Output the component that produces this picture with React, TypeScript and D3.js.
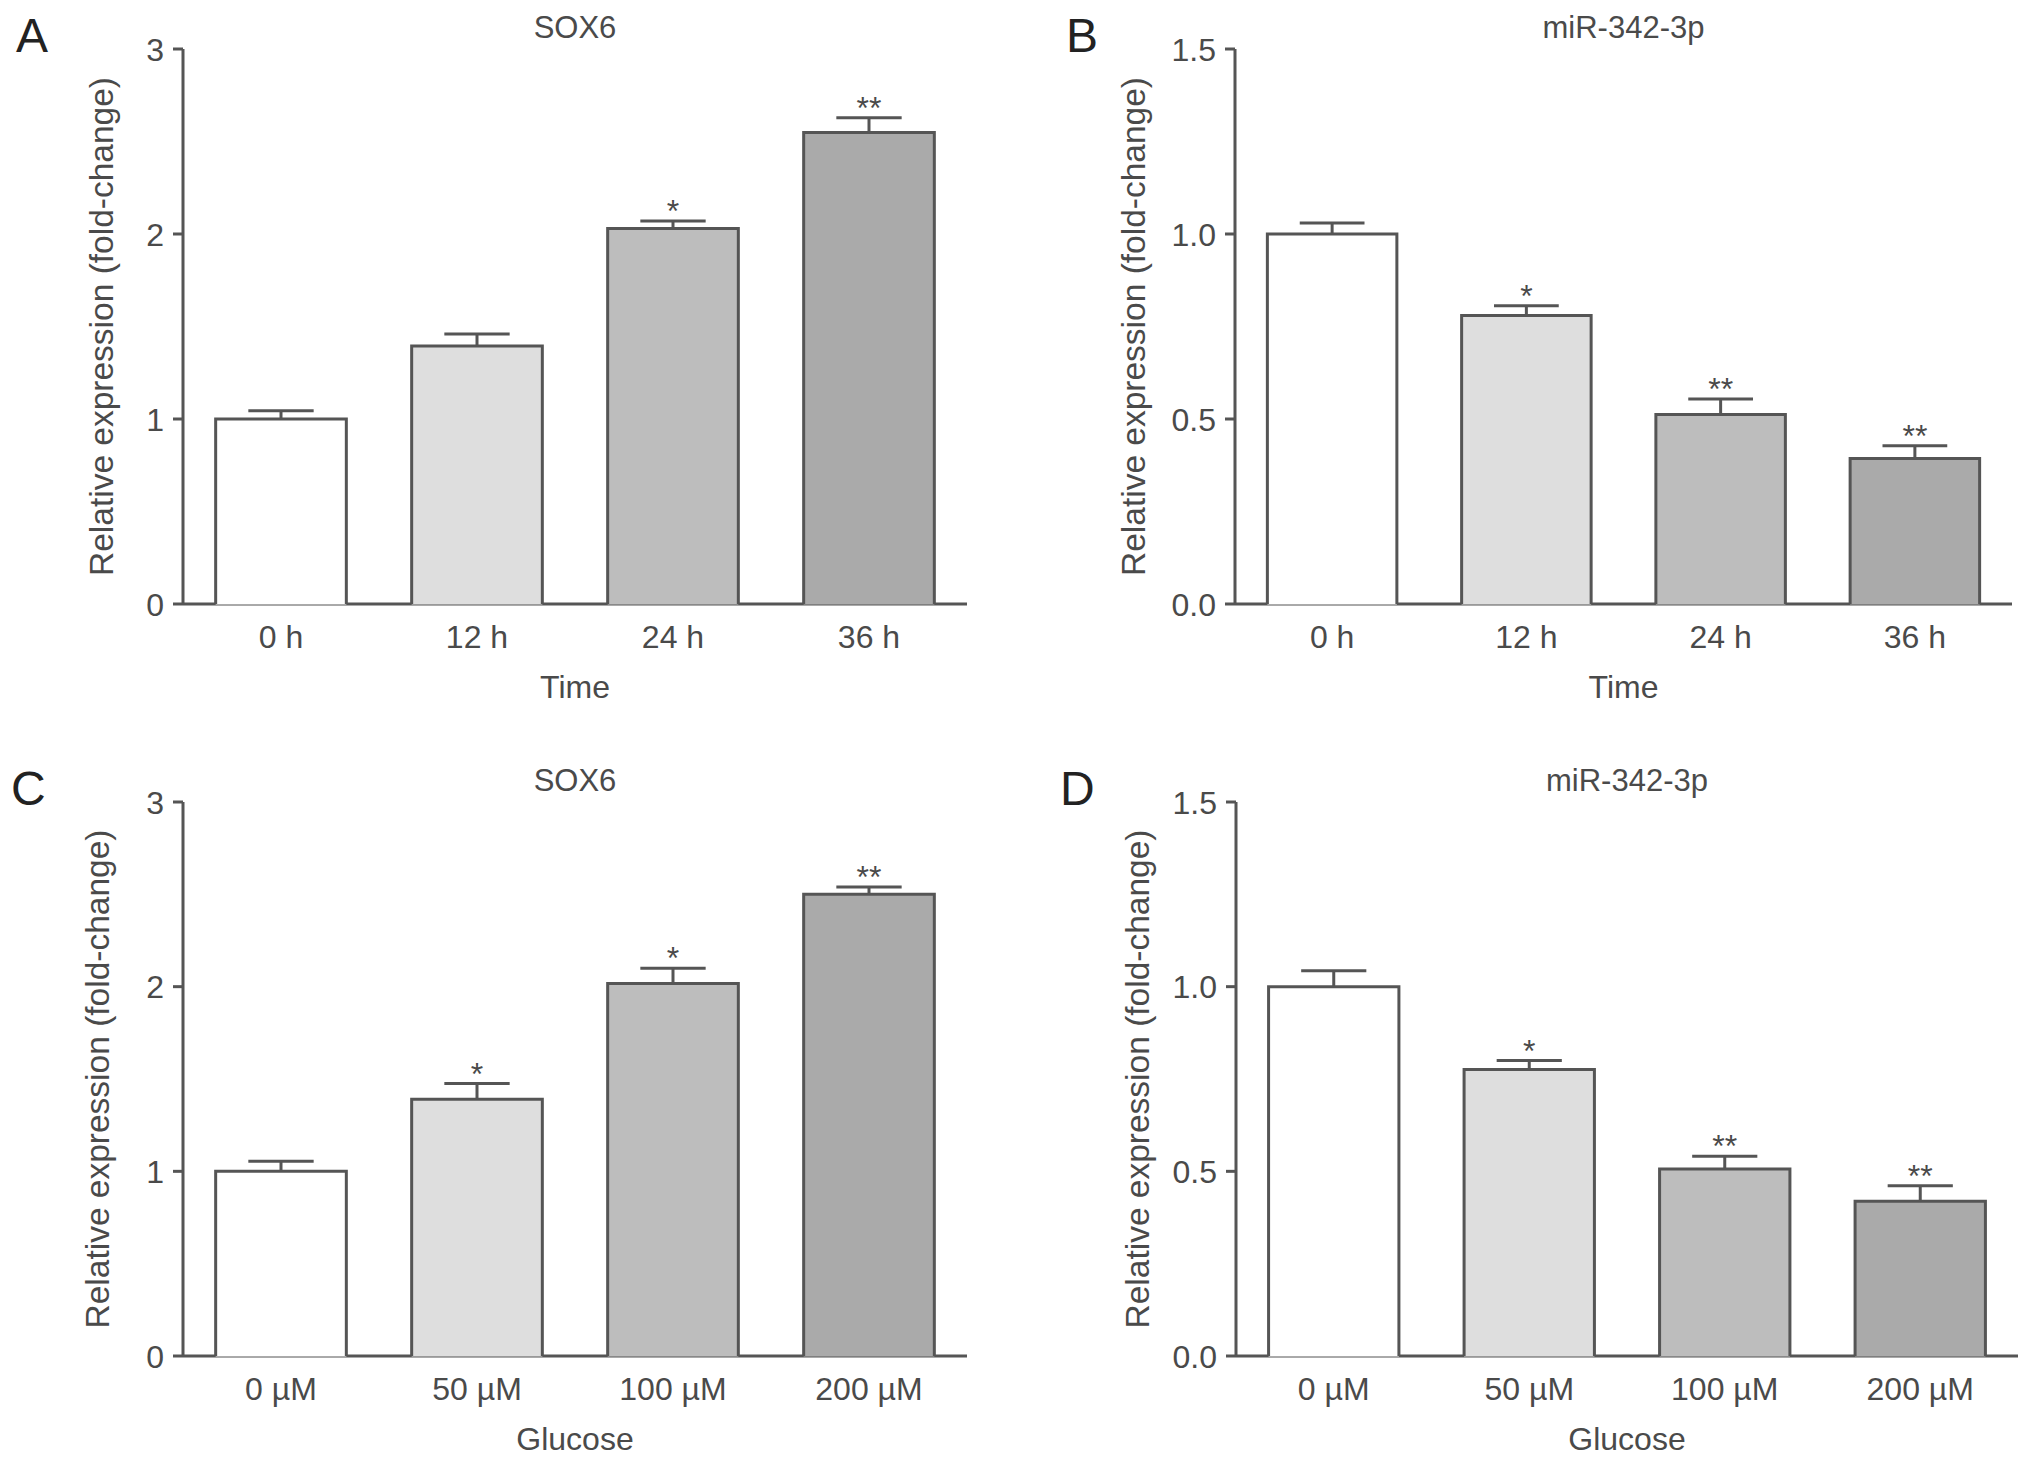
import * as d3 from 'd3'

// categories
const timeLabels = ['0 h', '12 h', '24 h', '36 h']
const glucoseLabels = ['0 µM', '50 µM', '100 µM', '200 µM']

// series (mean, error)
const sox6Time = [1.0, 1.395, 2.03, 2.548]
const sox6TimeErr = [0.045, 0.065, 0.04, 0.08]
const mirTime = [1.0, 0.78, 0.512, 0.393]
const mirTimeErr = [0.03, 0.026, 0.042, 0.035]
const sox6Glucose = [1.0, 1.39, 2.017, 2.5]
const sox6GlucoseErr = [0.055, 0.085, 0.083, 0.04]
const mirGlucose = [1.0, 0.776, 0.506, 0.419]
const mirGlucoseErr = [0.043, 0.024, 0.035, 0.042]

// significance marks
const sox6TimeSig = ['', '', '*', '**']
const mirTimeSig = ['', '*', '**', '**']
const sox6GlucoseSig = ['', '*', '*', '**']
const mirGlucoseSig = ['', '*', '**', '**']

// y ticks
const soxTicks = [0, 1, 2, 3]
const mirTicks = [0, 0.5, 1.0, 1.5]

const fills = ['#ffffff', '#dedede', '#bdbdbd', '#aaaaaa']
const INK = '#555'
const TEXT = '#4a4a4a'
const FONT = '"Liberation Sans", Arial, sans-serif'

interface PanelProps {
  letter: string
  title: string
  xTitle: string
  cats: string[]
  values: number[]
  errs: number[]
  sig: string[]
  ticks: number[]
  tickFmt: string
  x0: number
  x1: number
  top: number
  bottom: number
  yTitleX: number
  letterX: number
}

function Panel({
  letter, title, xTitle, cats, values, errs, sig, ticks, tickFmt,
  x0, x1, top, bottom, yTitleX, letterX,
}: PanelProps) {
  const x = d3.scaleBand<string>().domain(cats).range([x0, x1])
    .paddingInner(1 / 3).paddingOuter(1 / 6)
  const y = d3.scaleLinear().domain([ticks[0], ticks[ticks.length - 1]]).range([bottom, top])
  const fmt = d3.format(tickFmt)
  const bw = x.bandwidth()
  const cx = (x0 + x1) / 2

  return (
    <g fontFamily={FONT} fill={TEXT}>
      <text x={letterX} y={top + 3} fontSize={48} fill="#222">{letter}</text>
      <text x={cx} y={top - 11} fontSize={31} textAnchor="middle">{title}</text>

      {/* y axis */}
      <line x1={x0} x2={x0} y1={top} y2={bottom} stroke={INK} strokeWidth={3} />
      {ticks.map(t => (
        <g key={t}>
          <line x1={x0 - 10} x2={x0} y1={y(t)} y2={y(t)} stroke={INK} strokeWidth={3} />
          <text x={x0 - 19} y={y(t)} dy="0.36em" fontSize={32} textAnchor="end">{fmt(t)}</text>
        </g>
      ))}
      <text transform={`translate(${yTitleX},${(top + bottom) / 2}) rotate(-90)`}
        fontSize={33.5} textAnchor="middle">Relative expression (fold-change)</text>

      {/* x axis */}
      <line x1={x0} x2={x1} y1={bottom} y2={bottom} stroke={INK} strokeWidth={3} />

      {cats.map((c, i) => {
        const bx = x(c) as number
        const yt = y(values[i])
        const ye = y(values[i] + errs[i])
        const mx = bx + bw / 2
        return (
          <g key={c}>
            <line x1={mx} x2={mx} y1={yt} y2={ye} stroke={INK} strokeWidth={3} />
            <line x1={mx - bw / 4} x2={mx + bw / 4} y1={ye} y2={ye} stroke={INK} strokeWidth={3} />
            <rect x={bx} y={yt} width={bw} height={bottom - yt + 0.5} fill={fills[i]} />
            <path d={`M${bx},${bottom}V${yt}H${bx + bw}V${bottom}`} fill="none"
              stroke={INK} strokeWidth={3} />
            {sig[i] && (
              <text x={mx} y={ye + 1} fontSize={32} textAnchor="middle">{sig[i]}</text>
            )}
            <text x={mx} y={bottom + 44} fontSize={32} textAnchor="middle">{c}</text>
          </g>
        )
      })}
      <text x={cx} y={bottom + 94} fontSize={32} textAnchor="middle">{xTitle}</text>
    </g>
  )
}

export default function App() {
  return (
    <svg width={2032} height={1464} style={{ position: 'absolute', left: 0, top: 0, background: '#fff' }}>
      <rect width={2032} height={1464} fill="#fff" />
      <Panel letter="A" title="SOX6" xTitle="Time" cats={timeLabels}
        values={sox6Time} errs={sox6TimeErr} sig={sox6TimeSig}
        ticks={soxTicks} tickFmt="d" x0={183} x1={967} top={49} bottom={604}
        yTitleX={113} letterX={16} />
      <Panel letter="B" title="miR-342-3p" xTitle="Time" cats={timeLabels}
        values={mirTime} errs={mirTimeErr} sig={mirTimeSig}
        ticks={mirTicks} tickFmt=".1f" x0={1235} x1={2012} top={49} bottom={604}
        yTitleX={1145} letterX={1066} />
      <Panel letter="C" title="SOX6" xTitle="Glucose" cats={glucoseLabels}
        values={sox6Glucose} errs={sox6GlucoseErr} sig={sox6GlucoseSig}
        ticks={soxTicks} tickFmt="d" x0={183} x1={967} top={802} bottom={1356}
        yTitleX={109} letterX={11} />
      <Panel letter="D" title="miR-342-3p" xTitle="Glucose" cats={glucoseLabels}
        values={mirGlucose} errs={mirGlucoseErr} sig={mirGlucoseSig}
        ticks={mirTicks} tickFmt=".1f" x0={1236} x1={2018} top={802} bottom={1356}
        yTitleX={1149} letterX={1060} />
    </svg>
  )
}
